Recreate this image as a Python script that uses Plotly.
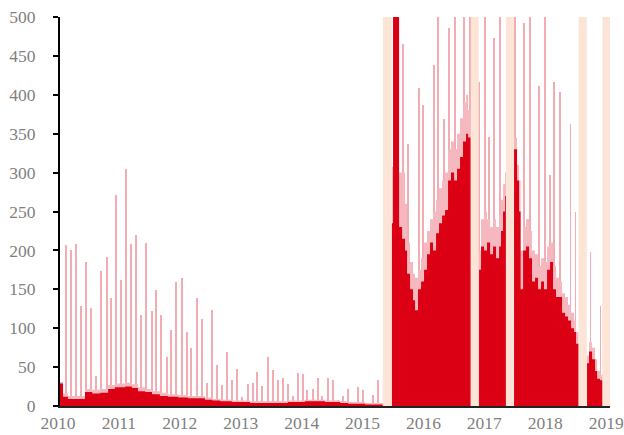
import plotly.graph_objects as go

# ---- data (decimal years) ----
solid_x = [2010.00, 2010.05, 2010.13, 2010.41, 2010.53, 2010.66, 2010.79, 2010.90, 2011.07, 2011.18,
           2011.28, 2011.40, 2011.51, 2011.64, 2011.77, 2011.94, 2012.10, 2012.23, 2012.38, 2012.50,
           2012.63, 2012.82, 2013.12, 2013.45, 2013.74, 2014.02, 2014.35, 2014.60, 2014.73, 2015.01,
           2015.30,
           2015.447, 2015.468, 2015.567, 2015.616, 2015.665, 2015.698, 2015.747, 2015.796, 2015.829,
           2015.878, 2015.928, 2015.977, 2016.026, 2016.075, 2016.125, 2016.174, 2016.223, 2016.273,
           2016.322, 2016.371, 2016.420, 2016.470, 2016.519, 2016.568, 2016.617, 2016.667, 2016.700,
           2016.741,
           2016.880, 2016.913, 2016.962, 2017.011, 2017.061, 2017.110, 2017.159, 2017.209, 2017.241,
           2017.274, 2017.307, 2017.323,
           2017.455, 2017.504, 2017.537, 2017.562, 2017.603, 2017.652, 2017.701, 2017.750, 2017.800,
           2017.849, 2017.898, 2017.947, 2017.997, 2018.046, 2018.095, 2018.144, 2018.194, 2018.243,
           2018.292, 2018.341, 2018.391, 2018.440, 2018.473, 2018.514,
           2018.653, 2018.686, 2018.736, 2018.785, 2018.818, 2018.867, 2018.908]
solid_y = [29, 12, 9, 18, 16, 17, 22, 24, 25, 23,
           19, 18, 15, 13, 12, 11, 10, 10, 8, 7,
           6, 5, 4, 4, 5, 6, 5, 4, 3, 2,
           0,
           235, 520, 230, 215, 200, 170, 150, 136, 123,
           150, 160, 175, 195, 210, 200, 222, 235, 245,
           252, 290, 300, 290, 305, 320, 340, 350, 345,
           0,
           175, 205, 200, 210, 195, 205, 190, 205, 225,
           250, 270, 0,
           330, 290, 250, 150, 200, 205, 190, 160, 165,
           150, 160, 150, 175, 185, 150, 140, 140, 120,
           115, 110, 100, 95, 80, 0,
           55, 70, 60, 45, 35, 33, 0]
upper_y = [31, 16, 13, 22, 21, 22, 27, 29, 30, 28,
           24, 22, 19, 17, 15, 14, 13, 13, 11, 9,
           8, 7, 6, 6, 7, 8, 7, 6, 5, 4,
           0,
           307, 520, 300, 300, 260, 210, 185, 170, 165,
           175, 190, 210, 225, 240, 250, 265, 280, 290,
           300, 330, 340, 330, 350, 370, 390, 400, 380,
           0,
           200, 240, 250, 240, 230, 240, 230, 245, 265,
           285, 300, 0,
           345, 310, 290, 200, 230, 240, 225, 200, 195,
           180, 190, 185, 205, 210, 180, 165, 160, 145,
           140, 130, 120, 110, 95, 0,
           65, 82, 75, 60, 45, 40, 0]

spike_x = [2010.094, 2010.176, 2010.258, 2010.350, 2010.432, 2010.504, 2010.586, 2010.673, 2010.767, 2010.842,
           2010.924, 2011.002, 2011.089, 2011.171, 2011.248, 2011.335, 2011.417, 2011.506, 2011.581, 2011.663,
           2011.757, 2011.828, 2011.910, 2012.008, 2012.080, 2012.156, 2012.255, 2012.332, 2012.419, 2012.501,
           2012.583, 2012.665, 2012.742, 2012.824, 2012.906, 2012.990, 2013.092, 2013.174, 2013.240, 2013.322,
           2013.420, 2013.493, 2013.575, 2013.667, 2013.744, 2013.830, 2013.913, 2013.995, 2014.060, 2014.159,
           2014.241, 2014.307, 2014.406, 2014.488, 2014.570, 2014.652, 2014.734, 2014.816, 2014.898, 2014.980,
           2015.140, 2015.226,
           2015.632, 2015.714, 2015.895, 2015.961, 2016.141, 2016.207, 2016.305, 2016.388, 2016.486, 2016.634,
           2016.732, 2016.880, 2016.979, 2017.044, 2017.126, 2017.225, 2017.471, 2017.619, 2017.718, 2017.865,
           2017.964, 2018.046, 2018.112, 2018.210, 2018.383, 2018.465, 2018.711, 2018.875]
spike_y = [207, 200, 208, 129, 185, 126, 38, 173, 191, 139,
           271, 162, 305, 208, 220, 117, 210, 122, 149, 117,
           63, 98, 159, 164, 95, 74, 139, 112, 30, 124,
           53, 27, 69, 33, 48, 11, 28, 29, 44, 26,
           63, 46, 33, 36, 28, 13, 42, 41, 21, 22,
           36, 13, 36, 33, 8, 13, 22, 5, 25, 21,
           14, 33,
           465, 337, 409, 387, 438, 510, 369, 486, 510, 510,
           510, 416, 510, 346, 473, 510, 500, 492, 510, 411,
           510, 297, 416, 403, 363, 249, 198, 128]

band_start = [2015.30, 2016.745, 2017.32, 2018.515, 2018.905]
band_end = [2015.445, 2016.875, 2017.452, 2018.65, 2019.03]

year_ticks = [2010, 2011, 2012, 2013, 2014, 2015, 2016, 2017, 2018, 2019]
y_ticks = [0, 50, 100, 150, 200, 250, 300, 350, 400, 450, 500]

RED = "#DC0014"
LIGHT = "#F5B8BE"
SPIKE = "#F4ACB3"

fig = go.Figure()
fig.add_trace(go.Bar(x=spike_x, y=spike_y, width=0.013, marker=dict(color=SPIKE, line_width=0),
                     showlegend=False, hoverinfo="skip"))
fig.add_trace(go.Scatter(x=solid_x, y=upper_y, mode="lines", line=dict(width=0, shape="hv"),
                         fill="tozeroy", fillcolor=LIGHT, showlegend=False, hoverinfo="skip"))
fig.add_trace(go.Scatter(x=solid_x, y=solid_y, mode="lines", line=dict(width=0, shape="hv"),
                         fill="tozeroy", fillcolor=RED, showlegend=False, hoverinfo="skip"))

for s, e in zip(band_start, band_end):
    fig.add_shape(type="rect", xref="x", yref="paper", x0=s, x1=e, y0=0, y1=1,
                  fillcolor="#FCE4D6", line_width=0, layer="above")

font_family = "Liberation Serif, DejaVu Serif, serif"
FS = 17.5
fig.update_layout(
    width=624, height=435,
    margin=dict(l=60, r=14, t=17, b=29, autoexpand=False),
    paper_bgcolor="white", plot_bgcolor="white",
    bargap=0,
    font=dict(family=font_family, size=FS, color="#7F7F7F"),
)
fig.update_xaxes(range=[2010, 2019.03], tickmode="array", tickvals=year_ticks,
                 ticktext=[str(t) for t in year_ticks], showgrid=False, zeroline=False,
                 showline=True, linecolor="#222222", linewidth=2, ticks="",
                 ticklabeloverflow="allow", ticklabelshift=-2,
                 tickfont=dict(family=font_family, size=FS, color="#7F7F7F"), automargin=False)
fig.update_yaxes(range=[0, 500], tickmode="array", tickvals=y_ticks, showgrid=False, zeroline=False,
                 showline=True, linecolor="black", linewidth=2, ticks="outside", ticklen=5,
                 tickcolor="black", tickwidth=2, ticklabelstandoff=14,
                 tickfont=dict(family=font_family, size=FS, color="#7F7F7F"), automargin=False)

fig.write_html("out.html", config={"displayModeBar": False},
               post_script="document.body.style.margin='0';document.body.style.overflow='hidden';")
